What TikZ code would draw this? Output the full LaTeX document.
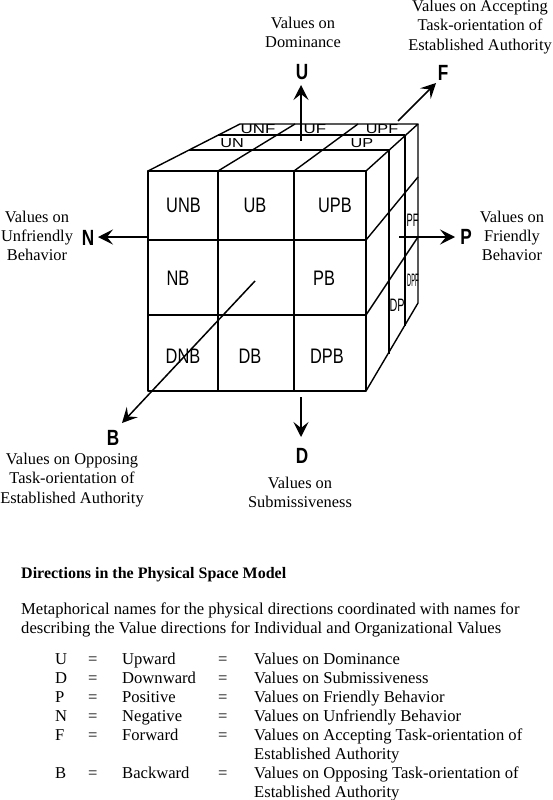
\documentclass[tikz,border=0pt]{standalone}
\usepackage{fontspec}
\usepackage{graphicx}
\setmainfont{Liberation Serif}
\newfontfamily\cubefont{Liberation Sans}
\usetikzlibrary{arrows.meta}
\newcommand{\hsq}[2]{\scalebox{#1}[1]{#2}}
\begin{document}
\begin{tikzpicture}[x=1pt,y=-1pt,line join=round,
  edge/.style={line width=1.4pt},
  axis/.style={line width=1.5pt,-{Stealth[length=15pt,width=15pt,inset=6pt]}},
  cell/.style={font=\cubefont\fontsize{21}{21}\selectfont,inner sep=0pt},
  topcell/.style={font=\cubefont\fontsize{13}{13}\selectfont,inner sep=0pt},
  sidecell/.style={font=\cubefont\fontsize{18}{18}\selectfont,inner sep=0pt},
  dirletter/.style={font=\cubefont\bfseries\fontsize{22}{22}\selectfont,inner sep=0pt},
  valtext/.style={font=\fontsize{16.4}{19.2}\selectfont,align=center,inner sep=0pt},
  tabtext/.style={font=\fontsize{16.6}{19}\selectfont,anchor=base west,inner sep=0pt},
  headtext/.style={font=\bfseries\fontsize{16}{19}\selectfont,anchor=base west,inner sep=0pt}
]
\path[use as bounding box] (0,0) rectangle (553,800);

% ---------- cube: front face ----------
\draw[edge] (148,171) rectangle (366,391);
\draw[edge] (218,171) -- (218,391);
\draw[edge] (294,171) -- (294,391);
\draw[edge] (148,240) -- (366,240);
\draw[edge] (148,315) -- (366,315);
% ---------- top face ----------
\draw[edge] (148,171) -- (240,124) -- (418,124) -- (366,171);
\draw[edge] (218,171) -- (295,124);
\draw[edge] (294,171) -- (358,124);
\draw[edge] (218,135) -- (405,135);
\draw[edge] (189,150) -- (389,150);
% ---------- right face ----------
\draw[edge] (418,124) -- (418,303) -- (366,391);
\draw[edge] (405,136) -- (405,326);
\draw[edge] (389,150) -- (389,354);
\draw[edge] (366,240) -- (418,177);
\draw[edge] (366,315) -- (418,237);

% ---------- cell labels ----------
\node[cell] (unb) at (183.5,205) {\hsq{0.78}{UNB}};
\node[cell] (ub)  at (255,205) {\hsq{0.78}{UB}};
\node[cell] (upb) at (335,205) {\hsq{0.78}{UPB}};
\node[cell] (nb)  at (178,278) {\hsq{0.78}{NB}};
\node[cell] (pb)  at (324,278) {\hsq{0.78}{PB}};
\node[cell] (dnb) at (183,356) {\hsq{0.78}{DNB}};
\node[cell] (db)  at (250,356) {\hsq{0.78}{DB}};
\node[cell] (dpb) at (327,356) {\hsq{0.78}{DPB}};
\node[topcell] (unf) at (258,129.5) {\hsq{1.3}{UNF}};
\node[topcell] (uf)  at (315,129.5) {\hsq{1.3}{UF}};
\node[topcell] (upf) at (382,129.5) {\hsq{1.25}{UPF}};
\node[topcell] (un)  at (232,143) {\hsq{1.25}{UN}};
\node[topcell] (up)  at (362,143) {\hsq{1.25}{UP}};
\node[sidecell] (pf)  at (412.5,220) {\hsq{0.52}{PF}};
\node[sidecell] (dpf) at (413,280) {\hsq{0.32}{DPF}};
\node[sidecell] (dp)  at (397,305) {\hsq{0.6}{DP}};

% ---------- direction letters ----------
\node[dirletter] (U) at (302,72) {\hsq{0.78}{U}};
\node[dirletter] (F) at (443,73) {\hsq{0.78}{F}};
\node[dirletter] (N) at (88,238) {\hsq{0.78}{N}};
\node[dirletter] (P) at (466,237) {\hsq{0.78}{P}};
\node[dirletter] (D) at (302,456) {\hsq{0.78}{D}};
\node[dirletter] (B) at (113,438) {\hsq{0.78}{B}};

% ---------- axes ----------
\coordinate (u0) at (301,141);  \coordinate (u1) at (301,85);
\coordinate (f0) at (398,121);  \coordinate (f1) at (436,83);
\coordinate (n0) at (148,237);  \coordinate (n1) at (98,237);
\coordinate (p0) at (399,237);  \coordinate (p1) at (455,237);
\coordinate (d0) at (301,397);  \coordinate (d1) at (301,437);
\coordinate (b0) at (255,281);  \coordinate (b1) at (122,423);
\draw[axis] (u0) -- (u1);
\draw[axis] (f0) -- (f1);
\draw[axis] (n0) -- (n1);
\draw[axis] (p0) -- (p1);
\draw[axis] (d0) -- (d1);
\draw[axis] (b0) -- (b1);

% ---------- value texts ----------
\node[valtext] (tu) at (303,32) {Values on\\Dominance};
\node[valtext] (tf) at (480,27) {Values on Accepting\\Task-orientation of\\Established Authority};
\node[valtext] (tn) at (37,236) {Values on\\Unfriendly\\Behavior};
\node[valtext] (tp) at (512,236) {Values on\\Friendly\\Behavior};
\node[valtext] (td) at (300,492) {Values on\\Submissiveness};
\node[valtext] (tb) at (72,480) {Values on Opposing\\Task-orientation of\\Established Authority};

% ---------- legend ----------
\node[headtext] (head) at (21,578) {Directions in the Physical Space Model};
\node[tabtext] (par1) at (21,614) {Metaphorical names for the physical directions coordinated with names for};
\node[tabtext] (par2) at (21,633) {describing the Value directions for Individual and Organizational Values};

\foreach \k/\l/\w/\v [count=\i] in {
  U/U/Upward/Values on Dominance,
  D/D/Downward/Values on Submissiveness,
  P/P/Positive/Values on Friendly Behavior,
  N/N/Negative/Values on Unfriendly Behavior,
  F/F/Forward/Values on Accepting Task-orientation of}{
  \node[tabtext] (r\k a) at (55,{664+19*(\i-1)}) {\l};
  \node[tabtext] (r\k b) at (88,{664+19*(\i-1)}) {=};
  \node[tabtext] (r\k c) at (122,{664+19*(\i-1)}) {\w};
  \node[tabtext] (r\k d) at (218,{664+19*(\i-1)}) {=};
  \node[tabtext] (r\k e) at (254,{664+19*(\i-1)}) {\v};
}
\node[tabtext] (rFf) at (254,759) {Established Authority};
\node[tabtext] (rBa) at (55,778) {B};
\node[tabtext] (rBb) at (88,778) {=};
\node[tabtext] (rBc) at (122,778) {Backward};
\node[tabtext] (rBd) at (218,778) {=};
\node[tabtext] (rBe) at (254,778) {Values on Opposing Task-orientation of};
\node[tabtext] (rBf) at (254,797) {Established Authority};
\end{tikzpicture}
\end{document}
